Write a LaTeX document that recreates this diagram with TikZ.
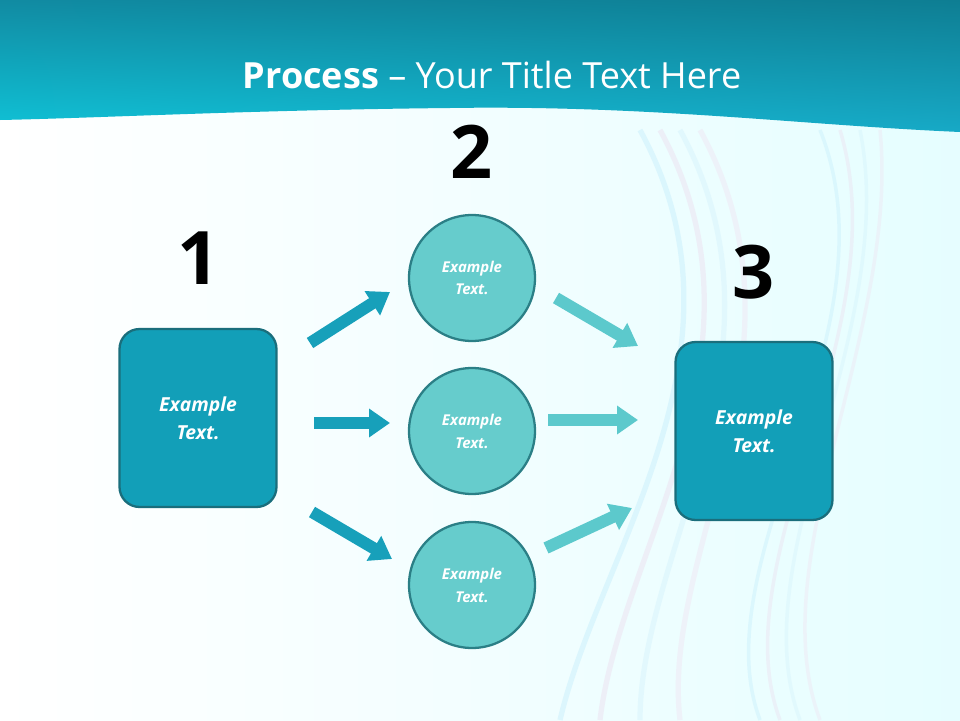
\documentclass[tikz,border=0pt]{standalone}
\usepackage{fontspec}
\setmainfont{Open Sans}
\usetikzlibrary{arrows.meta,shadings}
\definecolor{boxc}{HTML}{129FB8}
\definecolor{boxb}{HTML}{1A6E7C}
\definecolor{circ}{HTML}{66CCCC}
\definecolor{circb}{HTML}{2B7F86}
\definecolor{arrA}{HTML}{17A0BA}
\definecolor{arrB}{HTML}{5CC9CC}
\definecolor{headA}{HTML}{0E7E93}
\definecolor{headB}{HTML}{17A9C6}
\tikzset{
 sq/.style={draw=boxb,line width=1.3pt,fill=boxc,rounded corners=0.4cm,minimum width=3.14cm,minimum height=3.56cm,text=white,font=\fontsize{11}{16}\selectfont\bfseries\itshape,align=center},
 ci/.style={circle,draw=circb,line width=1.3pt,fill=circ,minimum size=2.52cm,text=white,font=\fontsize{8.5}{13}\selectfont\bfseries\itshape,align=center},
 num/.style={font=\fontsize{42}{42}\selectfont\bfseries},
 blk/.style={line width=0.24cm,-{Triangle[width=0.55cm,length=0.42cm]}},
}
\begin{document}
\begin{tikzpicture}[x=0.02cm,y=-0.02cm]
\useasboundingbox (0,0) rectangle (960,720);
\shade[left color=white,right color=blue!6!cyan!10] (0,0) rectangle (960,720);
\foreach \a/\c in {0/cyan!25,20/violet!15,40/cyan!18,60/violet!12}{
 \draw[\c,line width=3pt,opacity=0.4] (640+\a,130) .. controls (760+\a,350) and (600+\a,550) .. (560+\a*2,720);
 \draw[\c,line width=2pt,opacity=0.35] (820+\a,130) .. controls (900,330) and (700+\a,560) .. (760+\a,720);
}
\shade[upper left=headA!70!headB,lower left=headB!70!cyan,upper right=headA,lower right=headB] (0,0) -- (960,0) -- (960,132) .. controls (800,125) and (650,105) .. (450,108) .. controls (250,110) and (100,118) .. (0,120) -- cycle;
\node[text=white,font=\fontsize{20.5}{24}\selectfont] (title) at (492,75) {\textbf{Process} -- Your Title Text Here};
\node[sq] (b1) at (198,418) {Example\\Text.};
\node[sq] (b3) at (754,431) {Example\\Text.};
\node[ci] (c1) at (472,278) {Example\\Text.};
\node[ci] (c2) at (472,431) {Example\\Text.};
\node[ci] (c3) at (472,585) {Example\\Text.};
\node[num] (n1) at (199,258) {1};
\node[num] (n2) at (472,152) {2};
\node[num] (n3) at (754,272) {3};
\coordinate (a1s) at (310,343); \coordinate (a1e) at (390,292);
\coordinate (a2s) at (314,423); \coordinate (a2e) at (390,423);
\coordinate (a3s) at (312,512); \coordinate (a3e) at (392,559);
\coordinate (d1s) at (556,298); \coordinate (d1e) at (638,346);
\coordinate (d2s) at (548,420); \coordinate (d2e) at (638,420);
\coordinate (d3s) at (546,548); \coordinate (d3e) at (632,508);
\draw[blk,arrA] (a1s) -- (a1e);
\draw[blk,arrA] (a2s) -- (a2e);
\draw[blk,arrA] (a3s) -- (a3e);
\draw[blk,arrB] (d1s) -- (d1e);
\draw[blk,arrB] (d2s) -- (d2e);
\draw[blk,arrB] (d3s) -- (d3e);
\end{tikzpicture}
\end{document}
